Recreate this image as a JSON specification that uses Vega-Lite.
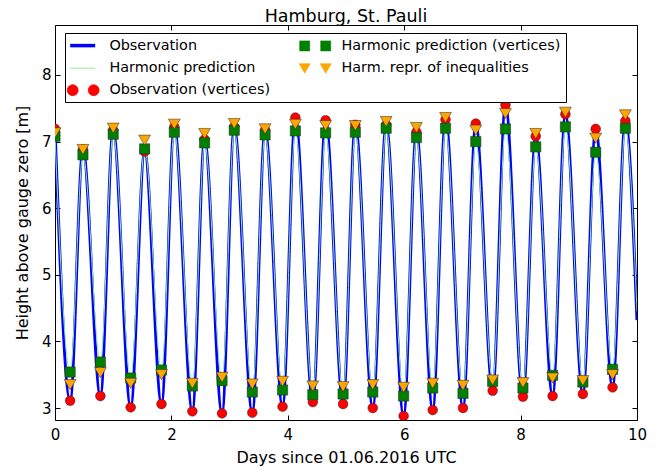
{
  "$schema": "https://vega.github.io/schema/vega-lite/v6.json",
  "width": 582,
  "height": 395,
  "autosize": {"type": "none"},
  "padding": {"left": 55, "top": 25, "right": 22, "bottom": 48},
  "background": "white",
  "title": {"text": "Hamburg, St. Pauli", "fontSize": 17.5, "fontWeight": "normal", "font": "DejaVu Sans", "color": "black", "offset": -1},
  "config": {
    "view": {"stroke": "black", "strokeWidth": 1},
    "font": "DejaVu Sans",
    "legend": {"strokeColor": "black", "fillColor": "white", "strokeWidth": 1},
    "axis": {"domain": false, "grid": false, "zindex": 1, "tickColor": "black", "tickSize": -5, "tickWidth": 1, "labelFontSize": 15, "labelColor": "black", "labelFont": "DejaVu Sans", "titleFontSize": 16, "titleFontWeight": "normal", "titleColor": "black", "titleFont": "DejaVu Sans"}
  },
  "data": {"values": [
    {"s": "Observation", "d": 0.00, "v": 7.19}, {"s": "Observation", "d": 0.26, "v": 3.11}, {"s": "Observation", "d": 0.48, "v": 6.88}, {"s": "Observation", "d": 0.78, "v": 3.18},
    {"s": "Observation", "d": 1.00, "v": 7.17}, {"s": "Observation", "d": 1.30, "v": 3.01}, {"s": "Observation", "d": 1.54, "v": 6.85}, {"s": "Observation", "d": 1.83, "v": 3.06},
    {"s": "Observation", "d": 2.05, "v": 7.22}, {"s": "Observation", "d": 2.36, "v": 2.95}, {"s": "Observation", "d": 2.57, "v": 7.03}, {"s": "Observation", "d": 2.87, "v": 2.92},
    {"s": "Observation", "d": 3.08, "v": 7.22}, {"s": "Observation", "d": 3.39, "v": 2.93}, {"s": "Observation", "d": 3.61, "v": 7.17}, {"s": "Observation", "d": 3.91, "v": 3.02},
    {"s": "Observation", "d": 4.13, "v": 7.36}, {"s": "Observation", "d": 4.43, "v": 3.09}, {"s": "Observation", "d": 4.65, "v": 7.32}, {"s": "Observation", "d": 4.95, "v": 3.06},
    {"s": "Observation", "d": 5.16, "v": 7.25}, {"s": "Observation", "d": 5.46, "v": 3.00}, {"s": "Observation", "d": 5.69, "v": 7.25}, {"s": "Observation", "d": 5.99, "v": 2.88},
    {"s": "Observation", "d": 6.21, "v": 7.14}, {"s": "Observation", "d": 6.49, "v": 2.97}, {"s": "Observation", "d": 6.71, "v": 7.33}, {"s": "Observation", "d": 7.01, "v": 3.00},
    {"s": "Observation", "d": 7.23, "v": 7.27}, {"s": "Observation", "d": 7.52, "v": 3.26}, {"s": "Observation", "d": 7.74, "v": 7.55}, {"s": "Observation", "d": 8.04, "v": 3.17},
    {"s": "Observation", "d": 8.26, "v": 7.08}, {"s": "Observation", "d": 8.55, "v": 3.18}, {"s": "Observation", "d": 8.77, "v": 7.41}, {"s": "Observation", "d": 9.07, "v": 3.21},
    {"s": "Observation", "d": 9.29, "v": 7.19}, {"s": "Observation", "d": 9.58, "v": 3.31}, {"s": "Observation", "d": 9.80, "v": 7.31}, {"s": "Observation", "d": 10.00, "v": 4.32},

    {"s": "Harmonic prediction", "d": 0.00, "v": 7.08}, {"s": "Harmonic prediction", "d": 0.26, "v": 3.54}, {"s": "Harmonic prediction", "d": 0.48, "v": 6.80}, {"s": "Harmonic prediction", "d": 0.78, "v": 3.69},
    {"s": "Harmonic prediction", "d": 1.00, "v": 7.11}, {"s": "Harmonic prediction", "d": 1.30, "v": 3.45}, {"s": "Harmonic prediction", "d": 1.54, "v": 6.89}, {"s": "Harmonic prediction", "d": 1.83, "v": 3.57},
    {"s": "Harmonic prediction", "d": 2.05, "v": 7.14}, {"s": "Harmonic prediction", "d": 2.36, "v": 3.33}, {"s": "Harmonic prediction", "d": 2.57, "v": 6.98}, {"s": "Harmonic prediction", "d": 2.87, "v": 3.41},
    {"s": "Harmonic prediction", "d": 3.08, "v": 7.17}, {"s": "Harmonic prediction", "d": 3.39, "v": 3.24}, {"s": "Harmonic prediction", "d": 3.61, "v": 7.10}, {"s": "Harmonic prediction", "d": 3.91, "v": 3.27},
    {"s": "Harmonic prediction", "d": 4.13, "v": 7.16}, {"s": "Harmonic prediction", "d": 4.43, "v": 3.20}, {"s": "Harmonic prediction", "d": 4.65, "v": 7.13}, {"s": "Harmonic prediction", "d": 4.95, "v": 3.21},
    {"s": "Harmonic prediction", "d": 5.16, "v": 7.14}, {"s": "Harmonic prediction", "d": 5.46, "v": 3.24}, {"s": "Harmonic prediction", "d": 5.69, "v": 7.20}, {"s": "Harmonic prediction", "d": 5.99, "v": 3.18},
    {"s": "Harmonic prediction", "d": 6.21, "v": 7.06}, {"s": "Harmonic prediction", "d": 6.49, "v": 3.30}, {"s": "Harmonic prediction", "d": 6.71, "v": 7.20}, {"s": "Harmonic prediction", "d": 7.01, "v": 3.22},
    {"s": "Harmonic prediction", "d": 7.23, "v": 7.00}, {"s": "Harmonic prediction", "d": 7.52, "v": 3.40}, {"s": "Harmonic prediction", "d": 7.74, "v": 7.19}, {"s": "Harmonic prediction", "d": 8.04, "v": 3.30},
    {"s": "Harmonic prediction", "d": 8.26, "v": 6.92}, {"s": "Harmonic prediction", "d": 8.55, "v": 3.49}, {"s": "Harmonic prediction", "d": 8.77, "v": 7.22}, {"s": "Harmonic prediction", "d": 9.07, "v": 3.39},
    {"s": "Harmonic prediction", "d": 9.29, "v": 6.84}, {"s": "Harmonic prediction", "d": 9.58, "v": 3.58}, {"s": "Harmonic prediction", "d": 9.80, "v": 7.20}, {"s": "Harmonic prediction", "d": 10.00, "v": 4.45},

    {"s": "Observation (vertices)", "d": 0.00, "v": 7.19}, {"s": "Observation (vertices)", "d": 0.26, "v": 3.11}, {"s": "Observation (vertices)", "d": 0.48, "v": 6.88}, {"s": "Observation (vertices)", "d": 0.78, "v": 3.18},
    {"s": "Observation (vertices)", "d": 1.00, "v": 7.17}, {"s": "Observation (vertices)", "d": 1.30, "v": 3.01}, {"s": "Observation (vertices)", "d": 1.54, "v": 6.85}, {"s": "Observation (vertices)", "d": 1.83, "v": 3.06},
    {"s": "Observation (vertices)", "d": 2.05, "v": 7.22}, {"s": "Observation (vertices)", "d": 2.36, "v": 2.95}, {"s": "Observation (vertices)", "d": 2.57, "v": 7.03}, {"s": "Observation (vertices)", "d": 2.87, "v": 2.92},
    {"s": "Observation (vertices)", "d": 3.08, "v": 7.22}, {"s": "Observation (vertices)", "d": 3.39, "v": 2.93}, {"s": "Observation (vertices)", "d": 3.61, "v": 7.17}, {"s": "Observation (vertices)", "d": 3.91, "v": 3.02},
    {"s": "Observation (vertices)", "d": 4.13, "v": 7.36}, {"s": "Observation (vertices)", "d": 4.43, "v": 3.09}, {"s": "Observation (vertices)", "d": 4.65, "v": 7.32}, {"s": "Observation (vertices)", "d": 4.95, "v": 3.06},
    {"s": "Observation (vertices)", "d": 5.16, "v": 7.25}, {"s": "Observation (vertices)", "d": 5.46, "v": 3.00}, {"s": "Observation (vertices)", "d": 5.69, "v": 7.25}, {"s": "Observation (vertices)", "d": 5.99, "v": 2.88},
    {"s": "Observation (vertices)", "d": 6.21, "v": 7.14}, {"s": "Observation (vertices)", "d": 6.49, "v": 2.97}, {"s": "Observation (vertices)", "d": 6.71, "v": 7.33}, {"s": "Observation (vertices)", "d": 7.01, "v": 3.00},
    {"s": "Observation (vertices)", "d": 7.23, "v": 7.27}, {"s": "Observation (vertices)", "d": 7.52, "v": 3.26}, {"s": "Observation (vertices)", "d": 7.74, "v": 7.55}, {"s": "Observation (vertices)", "d": 8.04, "v": 3.17},
    {"s": "Observation (vertices)", "d": 8.26, "v": 7.08}, {"s": "Observation (vertices)", "d": 8.55, "v": 3.18}, {"s": "Observation (vertices)", "d": 8.77, "v": 7.41}, {"s": "Observation (vertices)", "d": 9.07, "v": 3.21},
    {"s": "Observation (vertices)", "d": 9.29, "v": 7.19}, {"s": "Observation (vertices)", "d": 9.58, "v": 3.31}, {"s": "Observation (vertices)", "d": 9.80, "v": 7.31},

    {"s": "Harmonic prediction (vertices)", "d": 0.00, "v": 7.08}, {"s": "Harmonic prediction (vertices)", "d": 0.26, "v": 3.54}, {"s": "Harmonic prediction (vertices)", "d": 0.48, "v": 6.80}, {"s": "Harmonic prediction (vertices)", "d": 0.78, "v": 3.69},
    {"s": "Harmonic prediction (vertices)", "d": 1.00, "v": 7.11}, {"s": "Harmonic prediction (vertices)", "d": 1.30, "v": 3.45}, {"s": "Harmonic prediction (vertices)", "d": 1.54, "v": 6.89}, {"s": "Harmonic prediction (vertices)", "d": 1.83, "v": 3.57},
    {"s": "Harmonic prediction (vertices)", "d": 2.05, "v": 7.14}, {"s": "Harmonic prediction (vertices)", "d": 2.36, "v": 3.33}, {"s": "Harmonic prediction (vertices)", "d": 2.57, "v": 6.98}, {"s": "Harmonic prediction (vertices)", "d": 2.87, "v": 3.41},
    {"s": "Harmonic prediction (vertices)", "d": 3.08, "v": 7.17}, {"s": "Harmonic prediction (vertices)", "d": 3.39, "v": 3.24}, {"s": "Harmonic prediction (vertices)", "d": 3.61, "v": 7.10}, {"s": "Harmonic prediction (vertices)", "d": 3.91, "v": 3.27},
    {"s": "Harmonic prediction (vertices)", "d": 4.13, "v": 7.16}, {"s": "Harmonic prediction (vertices)", "d": 4.43, "v": 3.20}, {"s": "Harmonic prediction (vertices)", "d": 4.65, "v": 7.13}, {"s": "Harmonic prediction (vertices)", "d": 4.95, "v": 3.21},
    {"s": "Harmonic prediction (vertices)", "d": 5.16, "v": 7.14}, {"s": "Harmonic prediction (vertices)", "d": 5.46, "v": 3.24}, {"s": "Harmonic prediction (vertices)", "d": 5.69, "v": 7.20}, {"s": "Harmonic prediction (vertices)", "d": 5.99, "v": 3.18},
    {"s": "Harmonic prediction (vertices)", "d": 6.21, "v": 7.06}, {"s": "Harmonic prediction (vertices)", "d": 6.49, "v": 3.30}, {"s": "Harmonic prediction (vertices)", "d": 6.71, "v": 7.20}, {"s": "Harmonic prediction (vertices)", "d": 7.01, "v": 3.22},
    {"s": "Harmonic prediction (vertices)", "d": 7.23, "v": 7.00}, {"s": "Harmonic prediction (vertices)", "d": 7.52, "v": 3.40}, {"s": "Harmonic prediction (vertices)", "d": 7.74, "v": 7.19}, {"s": "Harmonic prediction (vertices)", "d": 8.04, "v": 3.30},
    {"s": "Harmonic prediction (vertices)", "d": 8.26, "v": 6.92}, {"s": "Harmonic prediction (vertices)", "d": 8.55, "v": 3.49}, {"s": "Harmonic prediction (vertices)", "d": 8.77, "v": 7.22}, {"s": "Harmonic prediction (vertices)", "d": 9.07, "v": 3.39},
    {"s": "Harmonic prediction (vertices)", "d": 9.29, "v": 6.84}, {"s": "Harmonic prediction (vertices)", "d": 9.58, "v": 3.58}, {"s": "Harmonic prediction (vertices)", "d": 9.80, "v": 7.20},

    {"s": "Harm. repr. of inequalities", "d": 0.00, "v": 7.13}, {"s": "Harm. repr. of inequalities", "d": 0.26, "v": 3.35}, {"s": "Harm. repr. of inequalities", "d": 0.48, "v": 6.88}, {"s": "Harm. repr. of inequalities", "d": 0.78, "v": 3.53},
    {"s": "Harm. repr. of inequalities", "d": 1.00, "v": 7.20}, {"s": "Harm. repr. of inequalities", "d": 1.30, "v": 3.37}, {"s": "Harm. repr. of inequalities", "d": 1.54, "v": 7.02}, {"s": "Harm. repr. of inequalities", "d": 1.83, "v": 3.50},
    {"s": "Harm. repr. of inequalities", "d": 2.05, "v": 7.26}, {"s": "Harm. repr. of inequalities", "d": 2.36, "v": 3.37}, {"s": "Harm. repr. of inequalities", "d": 2.57, "v": 7.12}, {"s": "Harm. repr. of inequalities", "d": 2.87, "v": 3.46},
    {"s": "Harm. repr. of inequalities", "d": 3.08, "v": 7.27}, {"s": "Harm. repr. of inequalities", "d": 3.39, "v": 3.36}, {"s": "Harm. repr. of inequalities", "d": 3.61, "v": 7.19}, {"s": "Harm. repr. of inequalities", "d": 3.91, "v": 3.40},
    {"s": "Harm. repr. of inequalities", "d": 4.13, "v": 7.26}, {"s": "Harm. repr. of inequalities", "d": 4.43, "v": 3.33}, {"s": "Harm. repr. of inequalities", "d": 4.65, "v": 7.24}, {"s": "Harm. repr. of inequalities", "d": 4.95, "v": 3.32},
    {"s": "Harm. repr. of inequalities", "d": 5.16, "v": 7.24}, {"s": "Harm. repr. of inequalities", "d": 5.46, "v": 3.35}, {"s": "Harm. repr. of inequalities", "d": 5.69, "v": 7.30}, {"s": "Harm. repr. of inequalities", "d": 5.99, "v": 3.31},
    {"s": "Harm. repr. of inequalities", "d": 6.21, "v": 7.21}, {"s": "Harm. repr. of inequalities", "d": 6.49, "v": 3.37}, {"s": "Harm. repr. of inequalities", "d": 6.71, "v": 7.36}, {"s": "Harm. repr. of inequalities", "d": 7.01, "v": 3.34},
    {"s": "Harm. repr. of inequalities", "d": 7.23, "v": 7.17}, {"s": "Harm. repr. of inequalities", "d": 7.52, "v": 3.42}, {"s": "Harm. repr. of inequalities", "d": 7.74, "v": 7.42}, {"s": "Harm. repr. of inequalities", "d": 8.04, "v": 3.38},
    {"s": "Harm. repr. of inequalities", "d": 8.26, "v": 7.12}, {"s": "Harm. repr. of inequalities", "d": 8.55, "v": 3.45}, {"s": "Harm. repr. of inequalities", "d": 8.77, "v": 7.44}, {"s": "Harm. repr. of inequalities", "d": 9.07, "v": 3.41},
    {"s": "Harm. repr. of inequalities", "d": 9.29, "v": 7.05}, {"s": "Harm. repr. of inequalities", "d": 9.58, "v": 3.50}, {"s": "Harm. repr. of inequalities", "d": 9.80, "v": 7.40}
  ]},
  "resolve": {"axis": {"x": "independent", "y": "independent"}},
  "layer": [
    {
      "transform": [{"filter": "datum.s == 'Observation'"}],
      "mark": {"type": "line", "interpolate": "monotone", "strokeWidth": 3, "clip": true},
      "encoding": {
        "x": {"field": "d", "type": "quantitative", "scale": {"domain": [0, 10], "nice": false, "zero": false},
              "axis": {"orient": "bottom", "values": [0, 2, 4, 6, 8, 10], "title": "Days since 01.06.2016 UTC", "labelPadding": 12, "titlePadding": 7, "labelFlush": false}},
        "y": {"field": "v", "type": "quantitative", "scale": {"domain": [2.82, 8.75], "nice": false, "zero": false},
              "axis": {"orient": "left", "values": [3, 4, 5, 6, 7, 8], "title": "Height above gauge zero [m]", "labelPadding": 9, "titlePadding": 11}},
        "color": {"field": "s", "type": "nominal",
          "scale": {"domain": ["Observation", "Harmonic prediction", "Observation (vertices)", "Harmonic prediction (vertices)", "Harm. repr. of inequalities"],
                    "range": ["#0000ff", "#90ee90", "#ff0000", "#008000", "#ffa500"]},
          "legend": {"title": null, "orient": "none", "legendX": 10, "legendY": 8, "columns": 2, "columnPadding": 27, "rowPadding": 7, "padding": 5,
            "strokeColor": "black", "fillColor": "white", "cornerRadius": 0, "symbolSize": 400, "labelFontSize": 14.4, "labelFont": "DejaVu Sans",
            "labelColor": "black", "labelOffset": 25, "labelLimit": 400, "symbolType": "stroke",
            "encode": {
              "legend": {"update": {"stroke": {"value": "black"}, "strokeWidth": {"value": 1}, "fill": {"value": "white"}}},
              "symbols": {"update": {
              "shape": {"signal": "datum.value == 'Observation' || datum.value == 'Harmonic prediction' ? 'M -0.7 0 L 1.8 0' : datum.value == 'Observation (vertices)' ? 'M -1 0 A 0.55 0.55 0 1 0 0.1 0 A 0.55 0.55 0 1 0 -1 0 Z M 1.1 0 A 0.55 0.55 0 1 0 2.2 0 A 0.55 0.55 0 1 0 1.1 0 Z' : datum.value == 'Harmonic prediction (vertices)' ? 'M -0.95 -0.5 L 0.05 -0.5 L 0.05 0.5 L -0.95 0.5 Z M 1.15 -0.5 L 2.15 -0.5 L 2.15 0.5 L 1.15 0.5 Z' : 'M -1 -0.45 L 0.1 -0.45 L -0.45 0.5 Z M 1.1 -0.45 L 2.2 -0.45 L 1.65 0.5 Z'"},
              "fill": {"signal": "datum.value == 'Observation (vertices)' ? '#ff0000' : datum.value == 'Harmonic prediction (vertices)' ? '#008000' : datum.value == 'Harm. repr. of inequalities' ? '#ffa500' : 'transparent'"},
              "stroke": {"signal": "datum.value == 'Observation' ? '#0000ff' : datum.value == 'Harmonic prediction' ? '#90ee90' : '#222222'"},
              "strokeWidth": {"signal": "datum.value == 'Observation' ? 3.5 : datum.value == 'Harmonic prediction' ? 1 : 0.6"},
              "size": {"value": 400},
              "opacity": {"value": 1},
              "fillOpacity": {"value": 1},
              "strokeOpacity": {"value": 1}
            }}}
          }}
      }
    },
    {
      "transform": [{"filter": "datum.s == 'Harmonic prediction'"}],
      "mark": {"type": "line", "interpolate": "monotone", "strokeWidth": 1, "color": "#90ee90", "clip": true},
      "encoding": {
        "x": {"field": "d", "type": "quantitative", "axis": {"orient": "top", "values": [0, 2, 4, 6, 8, 10], "labels": false, "title": null}},
        "y": {"field": "v", "type": "quantitative", "axis": {"orient": "right", "values": [3, 4, 5, 6, 7, 8], "labels": false, "title": null}}
      }
    },
    {
      "transform": [{"filter": "datum.s == 'Observation (vertices)'"}],
      "mark": {"type": "point", "shape": "circle", "filled": true, "fill": "#ff0000", "stroke": "#222222", "strokeWidth": 0.5, "size": 95, "opacity": 1, "clip": true},
      "encoding": {
        "x": {"field": "d", "type": "quantitative", "axis": null},
        "y": {"field": "v", "type": "quantitative", "axis": null}
      }
    },
    {
      "transform": [{"filter": "datum.s == 'Harmonic prediction (vertices)'"}],
      "mark": {"type": "point", "shape": "square", "filled": true, "fill": "#008000", "stroke": "#222222", "strokeWidth": 0.5, "size": 105, "opacity": 1, "clip": true},
      "encoding": {
        "x": {"field": "d", "type": "quantitative", "axis": null},
        "y": {"field": "v", "type": "quantitative", "axis": null}
      }
    },
    {
      "transform": [{"filter": "datum.s == 'Harm. repr. of inequalities'"}],
      "mark": {"type": "point", "shape": "triangle-down", "filled": true, "fill": "#ffa500", "stroke": "#222222", "strokeWidth": 0.5, "size": 140, "opacity": 1, "clip": true},
      "encoding": {
        "x": {"field": "d", "type": "quantitative", "axis": null},
        "y": {"field": "v", "type": "quantitative", "axis": null}
      }
    }
  ]
}
